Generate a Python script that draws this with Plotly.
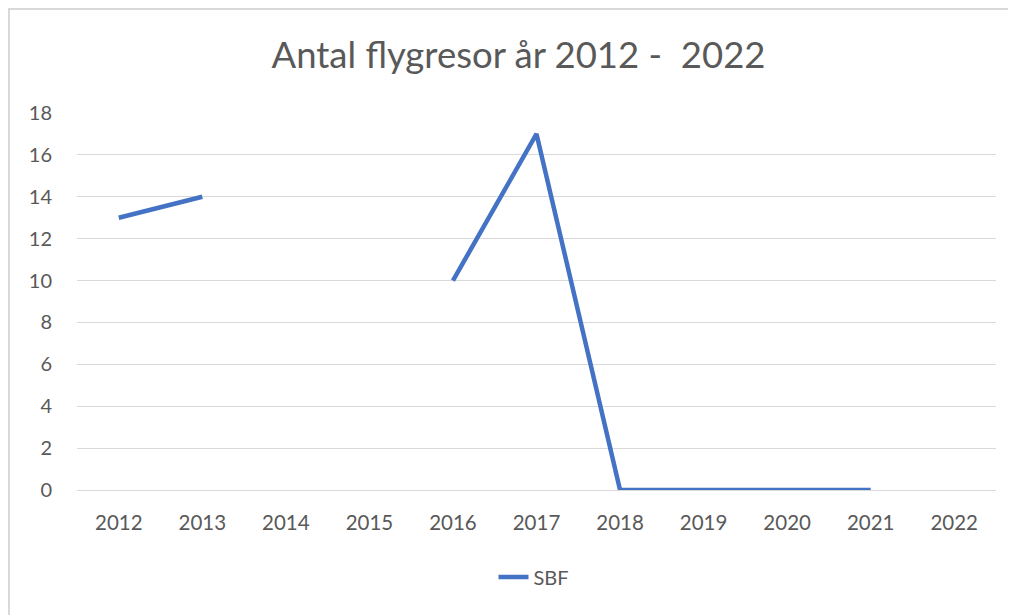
import plotly.graph_objects as go

years = ["2012", "2013", "2014", "2015", "2016", "2017", "2018", "2019", "2020", "2021", "2022"]
sbf = [13, 14, None, None, 10, 17, 0, 0, 0, 0, None]
y_ticks = [0, 2, 4, 6, 8, 10, 12, 14, 16, 18]

# page body has an 8px margin, so the figure is laid out 8px smaller
OFF = 8
W, H = 1016 - OFF, 615 - OFF
L, R = 77 - OFF, 20
T = 113 - OFF
B = 125
pw, ph = W - L - R, H - T - B

fig = go.Figure()
fig.add_trace(go.Scatter(
    x=years, y=sbf, mode="lines", name="SBF",
    line=dict(color="#4472C4", width=4.5),
    connectgaps=False,
))

font = "Lato, 'Open Sans', sans-serif"
fig.update_layout(
    width=W, height=H,
    margin=dict(l=L, r=R, t=T, b=B, autoexpand=False),
    paper_bgcolor="white", plot_bgcolor="white",
    font=dict(family=font, size=20, color="#595959"),
    title=dict(text="Antal flygresor år 2012 -  2022", xref="container",
               x=(518.5 - OFF) / W, xanchor="center",
               y=1 - (55 - OFF) / H, yanchor="middle",
               font=dict(family=font, size=36.5, color="#595959")),
    showlegend=True,
    legend=dict(orientation="h", x=(534 - L - OFF) / pw, xanchor="center",
                y=-(577 - 490) / ph, yanchor="middle",
                font=dict(size=20, color="#595959")),
    xaxis=dict(type="category", range=[-0.5, 10.5], showgrid=False,
               showline=True, linecolor="#d9d9d9", linewidth=1,
               ticks="outside", ticklen=14, tickcolor="rgba(0,0,0,0)",
               tickfont=dict(size=20.5, color="#595959")),
    yaxis=dict(range=[0, 18], tickvals=y_ticks, showgrid=True, gridcolor="#d9d9d9",
               gridwidth=1, zeroline=False, showline=False,
               ticks="outside", ticklen=20, tickcolor="rgba(0,0,0,0)",
               tickfont=dict(size=20, color="#595959")),
)

fig.add_shape(type="rect", xref="paper", yref="paper",
              x0=(9 - OFF - L) / pw, x1=(W + 20 - L) / pw,
              y0=-(H + 20 - T - ph) / ph, y1=(T + ph - (9 - OFF)) / ph,
              line=dict(color="#d9d9d9", width=2), fillcolor="rgba(0,0,0,0)", layer="below")

fig.write_html("out.html")
